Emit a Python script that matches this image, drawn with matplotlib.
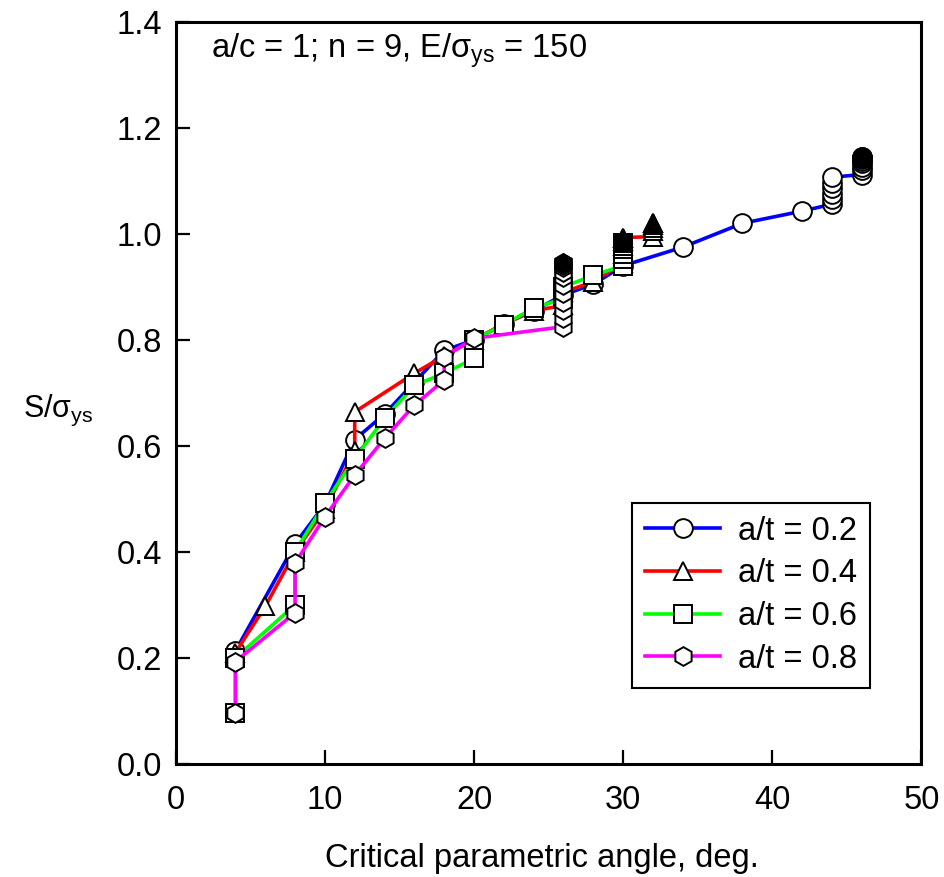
import matplotlib
matplotlib.use("Agg")
import matplotlib.pyplot as plt

plt.rcParams['font.family'] = ['Liberation Sans', 'DejaVu Sans']
plt.rcParams['mathtext.fontset'] = 'custom'
plt.rcParams['mathtext.rm'] = 'Liberation Sans'
plt.rcParams['mathtext.it'] = 'Liberation Sans:italic'

# a/t = 0.2
x_02 = [4, 8, 10, 12, 14, 16, 18, 20, 22, 24, 26, 28, 30, 34, 38, 42,
        44, 44, 44, 44, 44, 44, 46, 46, 46, 46, 46, 46, 46, 46]
y_02 = [0.213, 0.415, 0.49, 0.612, 0.66, 0.72, 0.78, 0.80, 0.83, 0.855, 0.885, 0.905, 0.94, 0.975, 1.02, 1.043,
        1.056, 1.066, 1.076, 1.086, 1.096, 1.107, 1.112, 1.12, 1.127, 1.133, 1.138, 1.142, 1.144, 1.146]
# a/t = 0.4
x_04 = [4, 6, 8, 10, 12, 12, 16, 18, 20, 22, 24, 26, 26, 28,
        30, 30, 30, 30, 30, 32, 32, 32, 32, 32]
y_04 = [0.21, 0.297, 0.40, 0.48, 0.59, 0.664, 0.737, 0.77, 0.80, 0.83, 0.855, 0.865, 0.89, 0.91,
        0.945, 0.962, 0.977, 0.987, 0.993, 0.995, 1.005, 1.012, 1.017, 1.02]
# a/t = 0.6
x_06 = [4, 4, 8, 8, 10, 12, 14, 16, 18, 20, 20, 22, 24, 26, 26, 28,
        30, 30, 30, 30, 30, 30]
y_06 = [0.096, 0.20, 0.30, 0.40, 0.492, 0.576, 0.652, 0.714, 0.737, 0.765, 0.80, 0.829, 0.86, 0.878, 0.90, 0.922,
        0.94, 0.952, 0.963, 0.972, 0.978, 0.982]
# a/t = 0.8
x_08 = [4, 4, 8, 8, 10, 12, 14, 16, 18, 18, 20,
        26, 26, 26, 26, 26, 26, 26, 26, 26, 26, 26]
y_08 = [0.096, 0.193, 0.285, 0.379, 0.466, 0.545, 0.614, 0.677, 0.724, 0.768, 0.803,
        0.825, 0.841, 0.857, 0.872, 0.888, 0.904, 0.918, 0.929, 0.937, 0.942, 0.946]

series = [
    (x_02, y_02, 'o', '#0000ff', 'a/t = 0.2', [46]),
    (x_04, y_04, '^', '#ff0000', 'a/t = 0.4', [30, 32]),
    (x_06, y_06, 's', '#00ff00', 'a/t = 0.6', [30]),
    (x_08, y_08, 'h', '#ff00ff', 'a/t = 0.8', [26]),
]

fs = 23.5

fig = plt.figure(figsize=(9.45, 8.77), dpi=100)
ax = fig.add_axes([0.186, 0.129, 0.789, 0.846])

for xs, ys, mk, col, lab, tops in series:
    ax.plot(xs, ys, color=col, lw=2.6, marker=mk, ms=13.5, mfc='white',
            mec='black', mew=1.4, label=lab)
    # top of each converged stack shows up solid
    for xt in tops:
        yt = max(y for x, y in zip(xs, ys) if x == xt)
        ax.plot(xt, yt, marker=mk, ms=13.5, mfc='black', mec='black', mew=1.4, ls='none')

ax.set_xlim(0, 50)
ax.set_ylim(0, 1.4)
ax.set_xticks(range(0, 51, 10))
ax.set_yticks([0.0, 0.2, 0.4, 0.6, 0.8, 1.0, 1.2, 1.4])
ax.set_yticklabels(['0.0', '0.2', '0.4', '0.6', '0.8', '1.0', '1.2', '1.4'])
ax.tick_params(axis='both', direction='in', length=10, width=1.6, labelsize=fs,
               top=False, right=False)
ax.tick_params(axis='x', pad=15)
ax.tick_params(axis='y', pad=10)
for sp in ax.spines.values():
    sp.set_linewidth(2.2)

ax.set_xlabel('Critical parametric angle, deg.', fontsize=fs)
ax.xaxis.set_label_coords(0.491, -0.106)
ax.set_ylabel('S/σ$_{\\rm ys}$', fontsize=22, rotation=0, ha='center', va='center')
ax.yaxis.set_label_coords(-0.158, 0.477)

ax.text(0.047, 0.961, 'a/c = 1; n = 9, E/σ$_{\\rm ys}$ = 150', transform=ax.transAxes,
        fontsize=fs, ha='left', va='center')

leg = ax.legend(loc='lower right', bbox_to_anchor=(0.9315, 0.1024), fontsize=fs,
                handlelength=2.3, handletextpad=0.55, labelspacing=0.36,
                borderpad=0.4, borderaxespad=0, fancybox=False, framealpha=1,
                edgecolor='black')
leg.get_frame().set_linewidth(1.5)

fig.savefig('out.png', dpi=100)
